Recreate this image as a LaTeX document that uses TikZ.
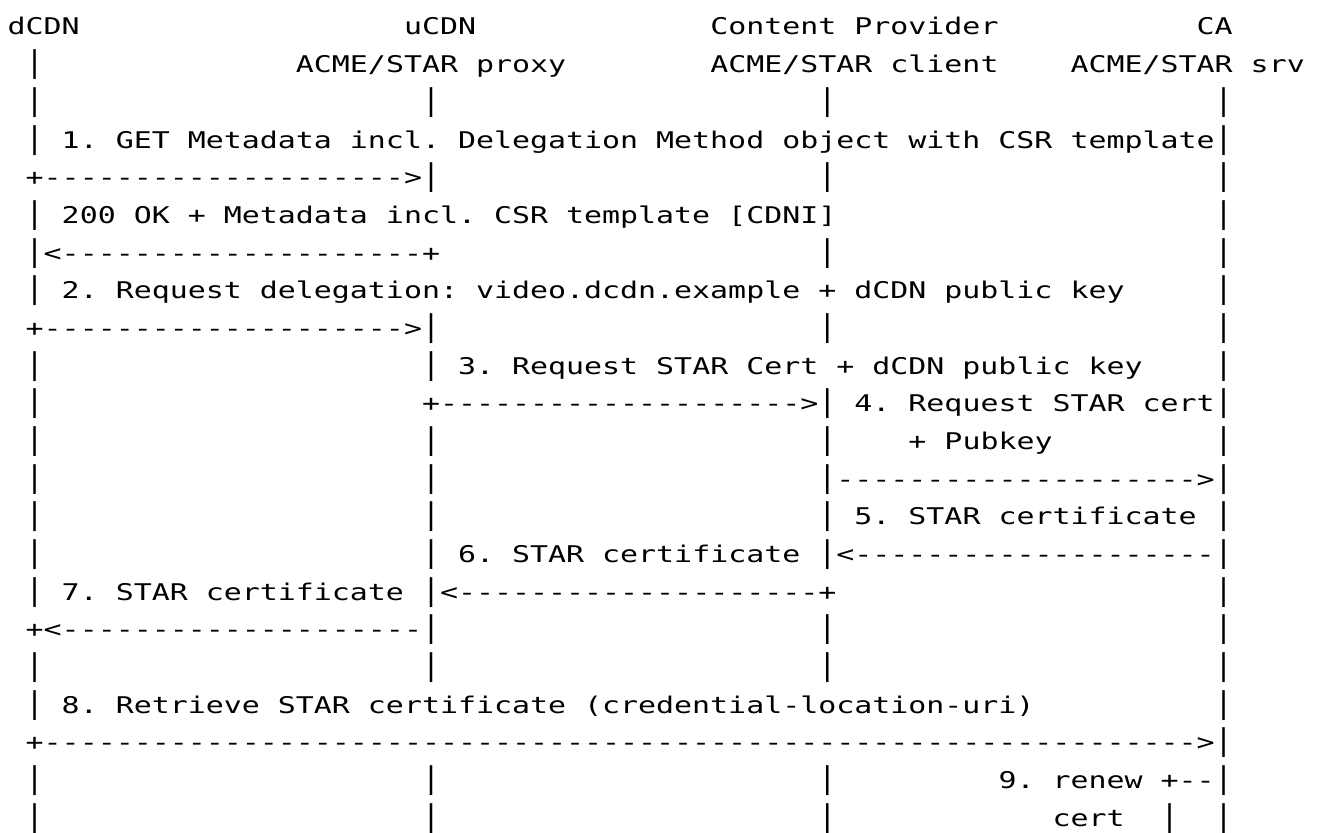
\documentclass[tikz,border=0pt]{standalone}
\usepackage{graphicx}
\usepackage{fontspec}
\setmonofont{DejaVu Sans Mono}[FakeStretch=1.301]
\newcommand\asciifont{\ttfamily\fontsize{11.5}{13}\selectfont\frenchspacing}
\newcommand\lifebar{\scalebox{1}[1.3]{|}}   % taller bar for the lifelines

\begin{document}
\begin{tikzpicture}
  \pgfmathsetmacro\hstep{9.0075}  % column pitch (pt)
  \pgfmathsetmacro\vstep{18.835}  % row pitch (pt)

  \useasboundingbox (0,0) rectangle (660.5pt,-416.5pt);

  \begin{scope}[x=\hstep pt, y=-\vstep pt, shift={(3.65pt,1.335pt)},
      cell/.style={anchor=base west, inner sep=0pt, font=\asciifont}]

% participants
  \node[cell] (dcdn)   at (0,1)  {dCDN};
  \node[cell] (ucdn)   at (22,1) {uCDN};
  \node[cell] (cp)     at (39,1) {Content Provider};
  \node[cell] (ca)     at (66,1) {CA};
  \node[cell] (proxy)  at (16,2) {ACME/STAR proxy};
  \node[cell] (client) at (39,2) {ACME/STAR client};
  \node[cell] (srv)    at (59,2) {ACME/STAR srv};

% lifelines (columns 1, 23, 45, 67)
  \foreach \r in {2,3,4,6,7,8,10,11,12,13,14,15,16,18,19,21,22}
    \node[cell] (bar-1-\r) at (1,\r) {\lifebar};
  \foreach \r in {3,5,9,10,12,13,14,15,16,17,18,21,22}
    \node[cell] (bar-23-\r) at (23,\r) {\lifebar};
  \foreach \r in {3,5,7,9,11,12,13,14,15,17,18,21,22}
    \node[cell] (bar-45-\r) at (45,\r) {\lifebar};
  \foreach \r in {3,...,22}
    \node[cell] (bar-67-\r) at (67,\r) {\lifebar};

% 1. metadata
  \node[cell] (msg1)  at (3,4) {1. GET Metadata incl. Delegation Method object with CSR template};
  \node[cell] (arr1)  at (1,5) {+-------------------->};
  \node[cell] (msg1r) at (3,6) {200 OK + Metadata incl. CSR template [CDNI]};
  \node[cell] (arr1r) at (2,7) {<--------------------+};

% 2. delegation request
  \node[cell] (msg2) at (3,8) {2. Request delegation: video.dcdn.example + dCDN public key};
  \node[cell] (arr2) at (1,9) {+-------------------->};

% 3. and 4. STAR order
  \node[cell] (msg3)  at (25,10) {3. Request STAR Cert + dCDN public key};
  \node[cell] (arr3)  at (23,11) {+-------------------->};
  \node[cell] (msg4)  at (47,11) {4. Request STAR cert};
  \node[cell] (msg4b) at (50,12) {+ Pubkey};
  \node[cell] (arr4)  at (46,13) {-------------------->};

% 5. to 7. certificate back down
  \node[cell] (msg5) at (47,14) {5. STAR certificate};
  \node[cell] (msg6) at (25,15) {6. STAR certificate};
  \node[cell] (arr5) at (46,15) {<--------------------};
  \node[cell] (msg7) at (3,16)  {7. STAR certificate};
  \node[cell] (arr6) at (24,16) {<--------------------+};
  \node[cell] (arr7) at (1,17)  {+<--------------------};

% 8. retrieval
  \node[cell] (msg8) at (3,19) {8. Retrieve STAR certificate (credential-location-uri)};
  \node[cell] (arr8) at (1,20) {+---------------------------------------------------------------->};

% 9. renewal loop
  \node[cell] (msg9)  at (55,21) {9. renew +--};
  \node[cell] (cert9) at (58,22) {cert};
  \node[cell] (loop9) at (64,22) {\lifebar};
  \end{scope}
\end{tikzpicture}
\end{document}
